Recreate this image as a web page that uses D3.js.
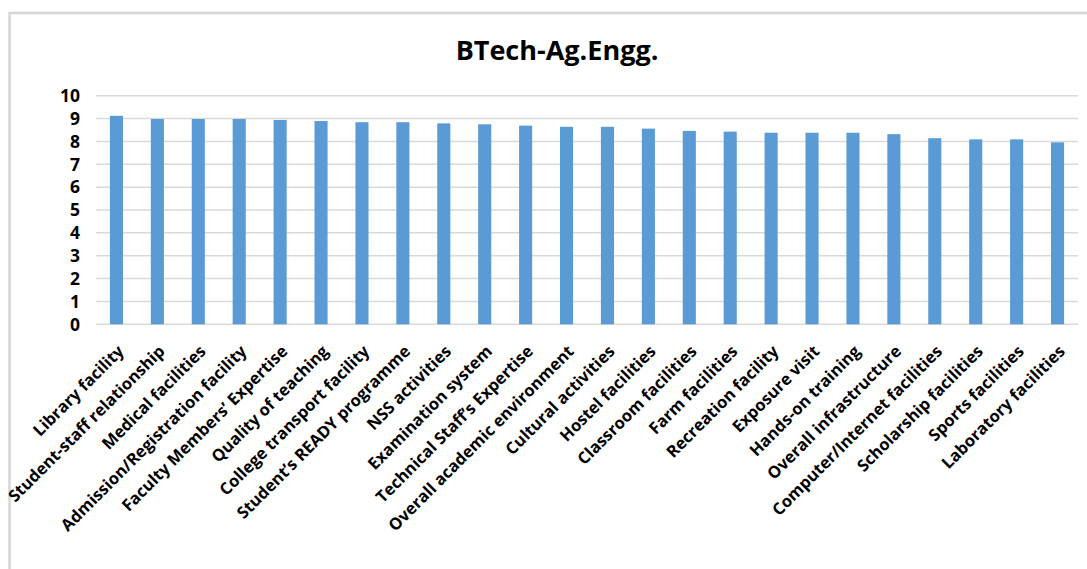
<!DOCTYPE html>
<html>
<head>
<meta charset="utf-8">
<script src="https://cdn.jsdelivr.net/npm/d3@7"></script>
<style>
	body { margin: 0; background: #fff; }
	svg { display: block; font-family: "Open Sans", sans-serif; }
	.grid line { stroke: #d9d9d9; stroke-width: 1.5; }
	.bar { fill: #5b9bd5; }
	.tick-label { font-weight: 700; fill: #000; }
</style>
</head>
<body>
<svg id="plot" width="1087" height="569"></svg>
<script>

function whenDocumentLoaded(action) {
	if (document.readyState === "loading") {
		document.addEventListener("DOMContentLoaded", action);
	} else {
		action();
	}
}

const TITLE = 'BTech-Ag.Engg.';
const CATEGORIES = [
	'Library facility', 'Student-staff relationship', 'Medical facilities',
	'Admission/Registration facility', 'Faculty Members\u2019 Expertise', 'Quality of teaching',
	'College transport facility', 'Student\u2019s READY programme', 'NSS activities',
	'Examination system', 'Technical Staff\u2019s Expertise', 'Overall academic environment',
	'Cultural activities', 'Hostel facilities', 'Classroom facilities', 'Farm facilities',
	'Recreation facility', 'Exposure visit', 'Hands-on training', 'Overall infrastructure',
	'Computer/Internet facilities', 'Scholarship facilities', 'Sports facilities', 'Laboratory facilities'
];
const SCORES = [
	9.12, 8.98, 8.98, 8.98, 8.94, 8.89, 8.84, 8.84, 8.79, 8.75, 8.69, 8.64,
	8.64, 8.56, 8.46, 8.43, 8.38, 8.38, 8.38, 8.32, 8.14, 8.09, 8.09, 7.96
];
const Y_TICKS = [0, 1, 2, 3, 4, 5, 6, 7, 8, 9, 10];

class BarChart {
	constructor(elementId) {
		this.elementId = elementId;
		this.draw();
	}
	draw() {
		var svg = d3.select(`#${this.elementId}`);
		var data = CATEGORIES.map((c, i) => ({ name: c, value: SCORES[i] }));

		// chart frame
		svg.append('rect')
			.attr('x', 9.5).attr('y', 13)
			.attr('width', 1100).attr('height', 600)
			.attr('fill', 'none')
			.attr('stroke', '#d6d6d6')
			.attr('stroke-width', 2.5);

		svg.append('text')
			.attr('x', 557).attr('y', 60)
			.attr('text-anchor', 'middle')
			.style('font-size', '27px')
			.style('font-weight', 700)
			.text(TITLE);

		var x = d3.scaleBand()
			.domain(CATEGORIES)
			.range([96, 1078])
			.paddingInner(0.68)
			.paddingOuter(0.34);
		var y = d3.scaleLinear()
			.domain([0, 10])
			.range([324.3, 95.7]);

		// gridlines
		svg.append('g')
			.attr('class', 'grid')
			.selectAll('line')
			.data(Y_TICKS)
			.enter()
			.append('line')
				.attr('x1', 96).attr('x2', 1078)
				.attr('y1', (d) => y(d)).attr('y2', (d) => y(d));

		// y labels
		svg.append('g')
			.selectAll('text')
			.data(Y_TICKS)
			.enter()
			.append('text')
				.attr('class', 'tick-label')
				.attr('x', 80)
				.attr('y', (d) => y(d))
				.attr('dy', '0.36em')
				.attr('text-anchor', 'end')
				.style('font-size', '17.5px')
				.text((d) => d);

		svg.append('g')
			.selectAll('rect')
			.data(data)
			.enter()
			.append('rect')
				.attr('class', 'bar')
				.attr('x', (d) => x(d.name))
				.attr('width', x.bandwidth())
				.attr('y', (d) => y(d.value))
				.attr('height', (d) => y(0) - y(d.value));

		// rotated category labels
		svg.append('g')
			.selectAll('text')
			.data(CATEGORIES)
			.enter()
			.append('text')
				.attr('class', 'tick-label')
				.attr('text-anchor', 'end')
				.attr('transform', (d) => `translate(${x(d) + x.bandwidth() / 2}, 344) rotate(-45)`)
				.attr('dy', '0.72em')
				.style('font-size', '16.5px')
				.text((d) => d);
	}
}

whenDocumentLoaded(() => {
	const plot = new BarChart('plot');
});
</script>
</body>
</html>
